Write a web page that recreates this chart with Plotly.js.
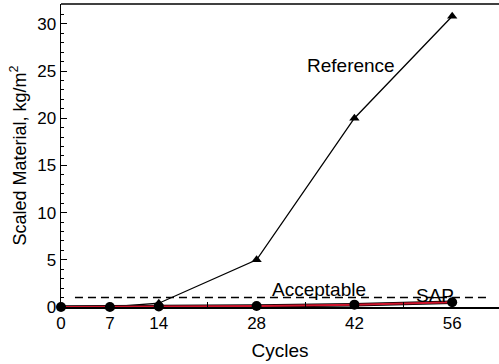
<!DOCTYPE html>
<html><head><meta charset="utf-8">
<script src="https://cdn.plot.ly/plotly-3.0.1.min.js"></script>
<style>html,body{margin:0;padding:0;background:#fff}#c{width:499px;height:364px}</style>
</head><body><div id="c"></div>
<script>
const cycles = [0, 7, 14, 28, 42, 56];
const referenceVals = [0, 0, 0.4, 5.0, 20.0, 30.8];
const sapVals = [0, 0, 0.05, 0.1, 0.25, 0.5];
const acceptableX = [2, 61];
const acceptableY = [1, 1];
const xTickVals = [0, 7, 14, 28, 42, 56];
const xMinorVals = [21, 35, 49];
const yTickVals = [0, 5, 10, 15, 20, 25, 30];

const fam = 'Liberation Sans, Arial, sans-serif';
const data = [
  {x: acceptableX, y: acceptableY, mode: 'lines', line: {color: '#000', width: 1.5, dash: '8px,5px'}, hoverinfo: 'skip', cliponaxis: false},
  {x: cycles.slice(1), y: referenceVals.slice(1), mode: 'lines+markers', line: {color: '#000', width: 1.3},
   marker: {symbol: 'triangle-up', size: 9, color: '#000'}, cliponaxis: false},
  {x: cycles, y: sapVals, mode: 'lines', line: {color: '#000', width: 3.5}, cliponaxis: false},
  {x: cycles, y: sapVals, mode: 'lines+markers', line: {color: '#d0142c', width: 2},
   marker: {symbol: 'circle', size: 10, color: '#000'}, cliponaxis: false}
];
const layout = {
  width: 499, height: 364, showlegend: false,
  margin: {l: 61, r: 0, t: 4, b: 57},
  paper_bgcolor: '#fff', plot_bgcolor: '#fff',
  font: {family: fam, color: '#000'},
  xaxis: {range: [0, 62.7], tickvals: xTickVals, ticks: 'inside', ticklen: 5, tickcolor: '#000',
    minor: {tickvals: xMinorVals, ticks: 'inside', ticklen: 5, tickcolor: '#000', showgrid: false},
    showgrid: false, zeroline: false, showline: true, linecolor: '#000', linewidth: 1.5,
    tickfont: {size: 17, family: fam, color: '#000'},
    title: {text: 'Cycles', font: {size: 19, family: fam, color: '#000'}, standoff: 12}},
  yaxis: {range: [0, 32.1], tickvals: yTickVals, ticks: 'inside', ticklen: 6, tickcolor: '#000',
    minor: {dtick: 1, ticks: 'inside', ticklen: 3, tickcolor: '#000', showgrid: false},
    showgrid: false, zeroline: false, showline: true, linecolor: '#000', linewidth: 1.5,
    tickfont: {size: 17, family: fam, color: '#000'},
    title: {text: 'Scaled Material, kg/m<sup>2</sup>', font: {size: 18, family: fam, color: '#000'}, standoff: 6}},
  shapes: [{type: 'line', xref: 'paper', yref: 'paper', x0: 0, x1: 1, y0: 1, y1: 1, line: {color: '#000', width: 1.5}}],
  annotations: [
    {x: 41.5, y: 25.6, text: 'Reference', showarrow: false, font: {size: 19, family: fam, color: '#000'}},
    {x: 37.0, y: 1.9, text: 'Acceptable', showarrow: false, font: {size: 19, family: fam, color: '#000'}},
    {x: 53.5, y: 1.2, text: 'SAP', showarrow: false, font: {size: 19, family: fam, color: '#000'}}
  ]
};
Plotly.newPlot('c', data, layout, {displayModeBar: false, staticPlot: true});
</script></body></html>
